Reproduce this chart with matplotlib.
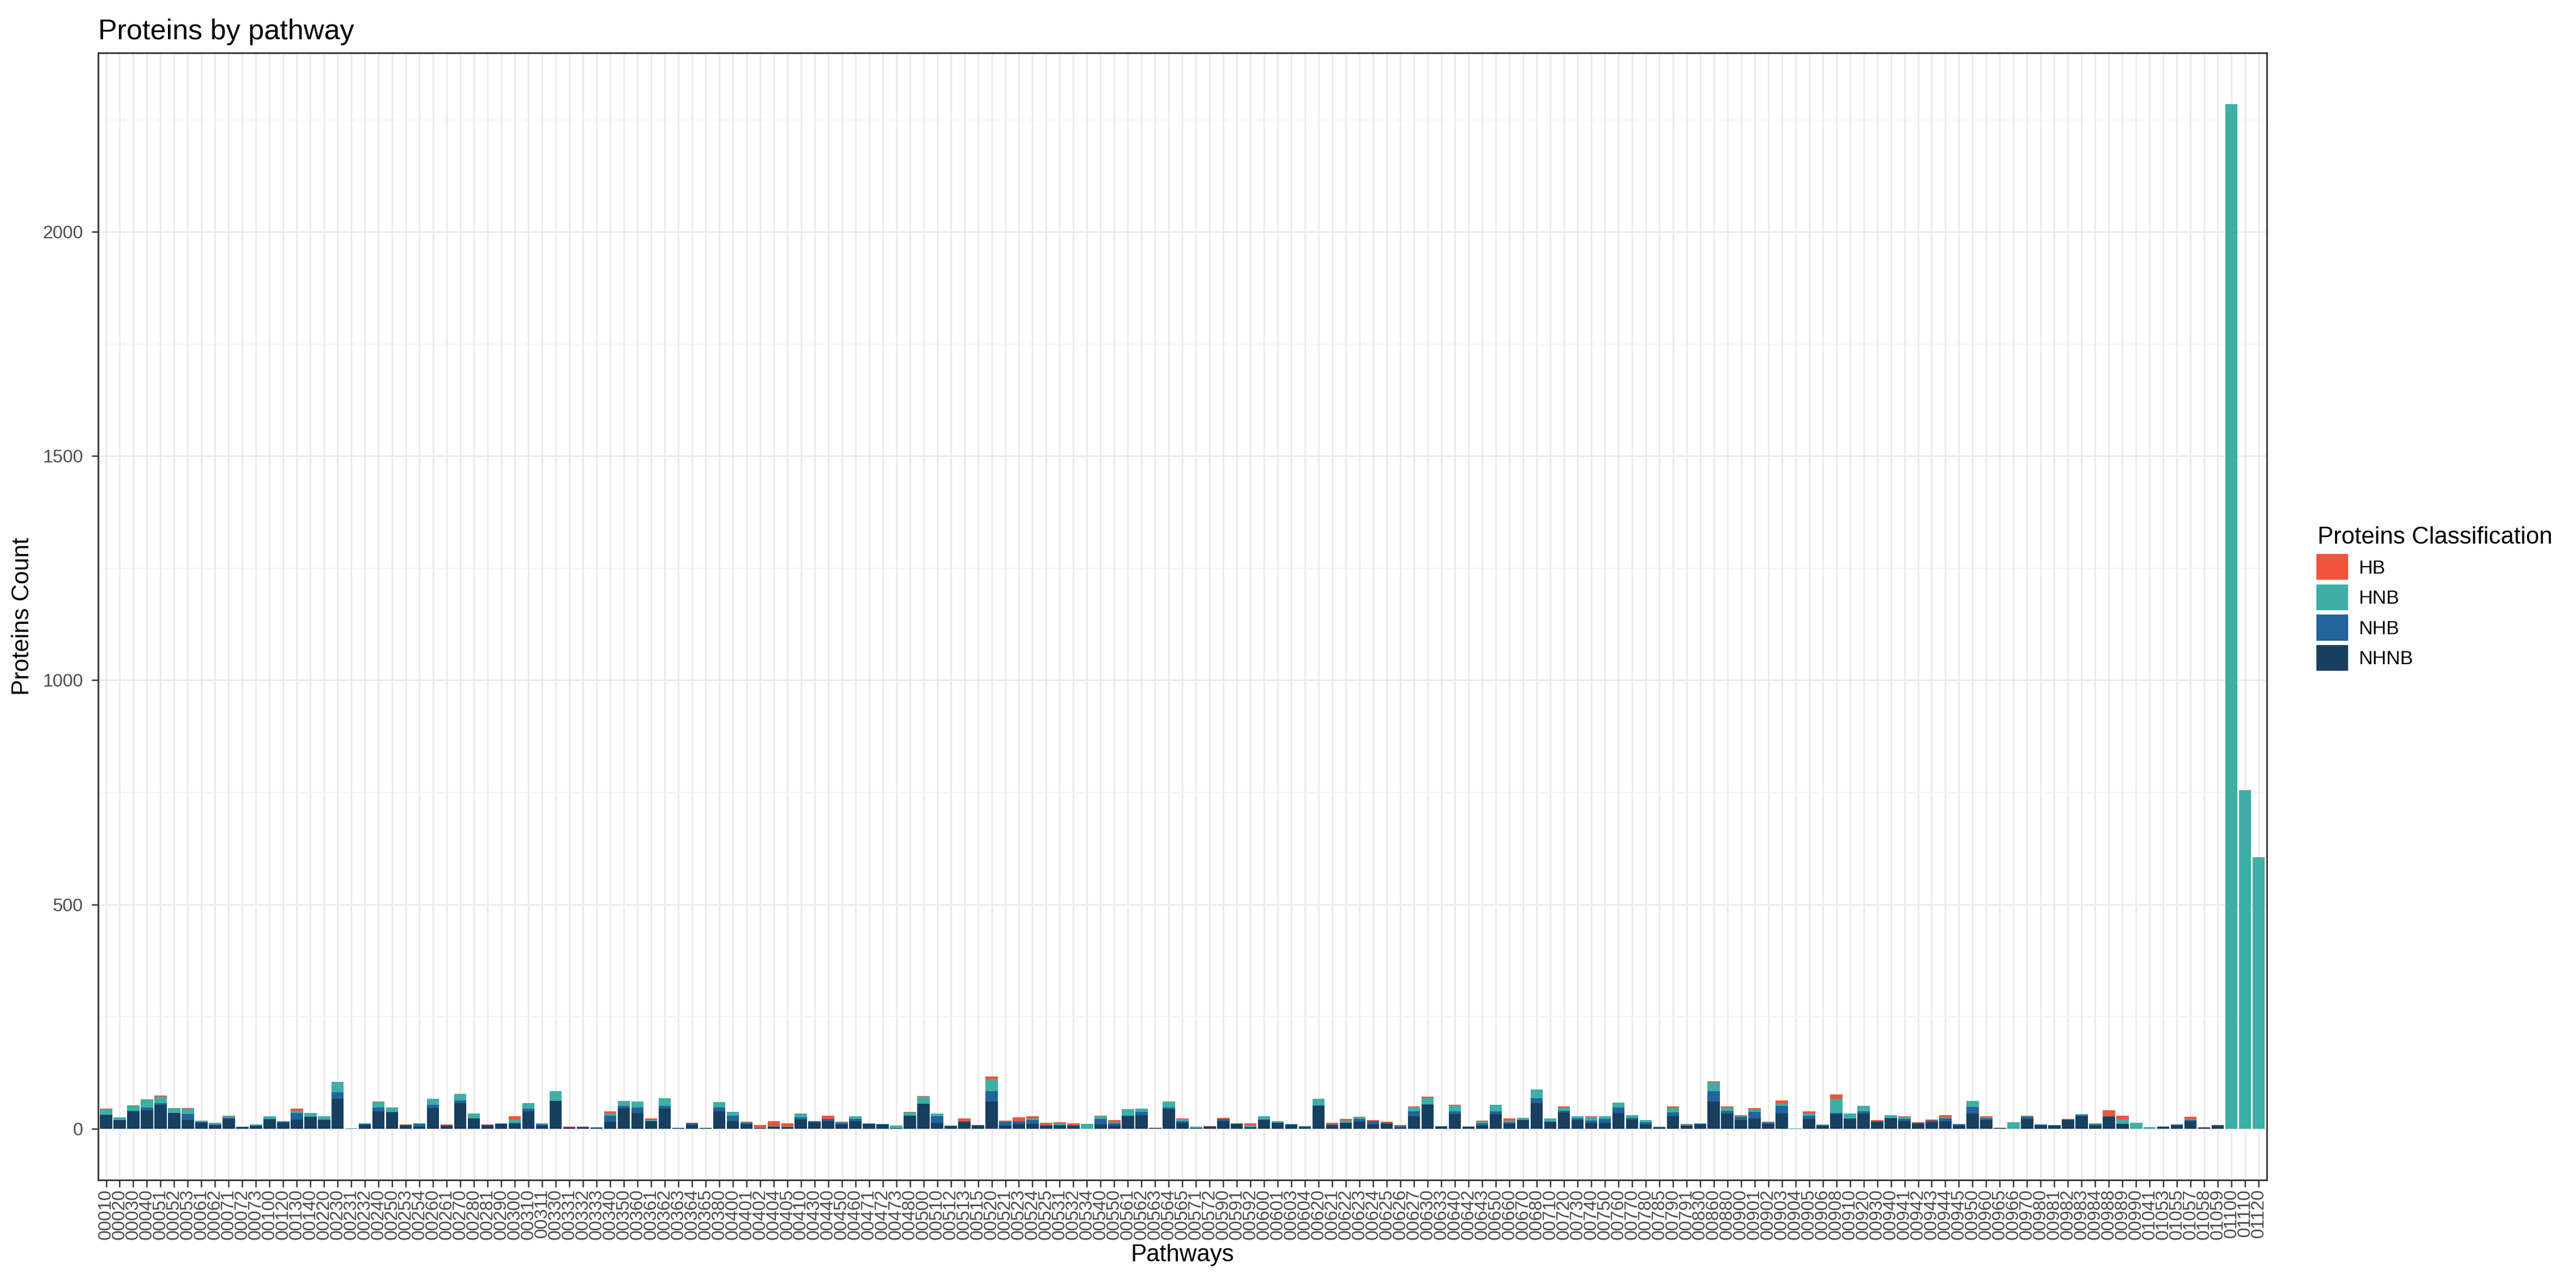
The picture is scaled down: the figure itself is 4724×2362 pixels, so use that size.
import matplotlib
matplotlib.use("Agg")
import matplotlib.pyplot as plt
import matplotlib.patches as mpatches
import numpy as np

pathways = [
"00010","00020","00030","00040","00051","00052","00053","00061","00062","00071","00072","00073","00100","00120","00130","00140",
"00220","00230","00231","00232","00240","00250","00253","00254","00260","00261","00270","00280","00281","00290","00300","00310",
"00311","00330","00331","00332","00333","00340","00350","00360","00361","00362","00363","00364","00365","00380","00400","00401",
"00402","00404","00405","00410","00430","00440","00450","00460","00471","00472","00473","00480","00500","00510","00512","00513",
"00515","00520","00521","00523","00524","00525","00531","00532","00534","00540","00550","00561","00562","00563","00564","00565",
"00571","00572","00590","00591","00592","00600","00601","00603","00604","00620","00621","00622","00623","00624","00625","00626",
"00627","00630","00633","00640","00642","00643","00650","00660","00670","00680","00710","00720","00730","00740","00750","00760",
"00770","00780","00785","00790","00791","00830","00860","00880","00900","00901","00902","00903","00904","00905","00906","00908",
"00910","00920","00930","00940","00941","00942","00943","00944","00945","00950","00960","00965","00966","00970","00980","00981",
"00982","00983","00984","00988","00989","00990","01041","01053","01055","01057","01058","01059","01100","01110","01120"]

NHNB = [30,19,39,41,53,35,19,14,7,22,3,6,20,13,20,26,
19,67,0,8,39,36,7,4,46,7,57,23,7,11,11,39,
7,61,2,3,1,15,46,35,16,45,1,8,1,38,17,9,
1,4,3,20,14,17,9,17,11,9,1,29,55,13,6,14,
7,60,7,11,11,7,7,7,0,9,7,27,30,1,43,13,
1,4,17,10,3,19,13,8,3,51,7,13,15,9,11,2,
28,53,4,33,4,7,32,10,19,57,15,36,19,13,13,35,
20,9,2,27,7,9,60,34,19,23,11,34,0,22,7,33,
22,34,14,23,17,11,14,17,7,34,19,1,0,21,7,7,
19,28,7,26,11,0,0,4,7,17,2,7,0,0,0]
NHB = [1,0,1,6,4,0,13,0,2,2,0,1,2,2,15,0,
1,14,0,2,8,1,1,6,7,0,6,0,1,0,2,6,
2,0,1,0,1,14,5,12,1,6,0,4,0,9,12,4,
0,0,0,5,2,5,4,5,0,0,0,0,1,15,0,2,
0,24,8,6,8,0,1,0,0,13,5,2,7,0,4,4,
0,1,4,0,0,1,0,1,1,1,2,0,6,8,2,4,
11,1,0,5,0,5,7,4,0,11,0,4,4,5,8,12,
4,5,1,9,0,1,24,6,7,14,2,17,0,7,0,2,
1,5,2,1,5,2,4,6,2,14,4,0,0,5,2,0,
1,2,2,1,0,0,0,0,2,2,0,0,0,0,0]
HNB = [12,6,11,17,14,11,13,4,4,4,2,2,5,1,5,9,
8,23,1,2,12,9,0,2,14,0,15,11,0,1,7,11,
2,22,0,0,1,5,11,13,2,17,1,0,1,12,8,1,
0,2,2,9,1,0,1,5,1,1,6,7,15,6,1,1,
0,26,1,0,4,1,4,0,10,5,2,14,7,0,13,5,
3,0,1,1,5,7,4,1,2,14,0,5,4,0,0,0,
9,15,2,14,1,4,14,4,5,19,8,7,4,8,7,11,
6,5,1,10,2,2,19,6,2,5,1,5,1,5,2,32,
11,12,1,6,4,0,0,2,2,13,1,0,14,2,0,1,
0,2,1,0,9,13,3,0,0,2,0,0,2285,755,605]
HB = [2,0,1,1,3,0,1,0,0,1,0,0,1,1,4,0,
0,0,0,0,1,1,1,0,0,2,0,0,1,0,7,1,
1,1,1,1,0,4,0,0,4,0,0,1,0,0,0,1,
7,10,7,0,0,7,1,1,0,1,0,1,1,0,0,6,
1,6,2,8,4,5,2,5,0,2,5,0,0,1,0,1,
0,1,2,1,4,0,0,1,0,0,4,4,1,2,2,2,
1,2,0,1,0,2,0,5,0,0,0,2,1,1,0,0,
0,0,0,3,1,0,2,4,2,4,1,7,0,4,0,9,
0,0,2,0,1,1,2,5,0,1,4,1,0,1,0,0,
1,1,2,14,9,0,0,1,0,5,1,1,0,0,0]

classes = ["HB", "HNB", "NHB", "NHNB"]
colors = {"HB": "#EE553B", "HNB": "#3DAFA5", "NHB": "#22649C", "NHNB": "#183F60"}

plt.rcParams['font.family'] = ['Liberation Sans', 'DejaVu Sans']
fig = plt.figure(figsize=(4724/300, 2362/300), dpi=300)
ax = fig.add_axes([0.038, 0.084, 0.842, 0.875])

x = np.arange(len(pathways))
series = {"NHNB": np.array(NHNB), "NHB": np.array(NHB), "HNB": np.array(HNB), "HB": np.array(HB)}
bottom = np.zeros(len(pathways))
for c in ["NHNB", "NHB", "HNB", "HB"]:
    ax.bar(x, series[c], bottom=bottom, width=0.9, color=colors[c], zorder=3, linewidth=0)
    bottom += series[c]

ymax = bottom.max()
ax.set_ylim(-0.05 * ymax, ymax * 1.05)
ax.set_xlim(-0.6, len(pathways) - 0.4)
ax.set_xticks(x)
ax.set_xticklabels(pathways, rotation=90, fontsize=8, color="#4D4D4D")
ax.set_yticks([0, 500, 1000, 1500, 2000])
ax.set_yticks([250, 750, 1250, 1750, 2250], minor=True)
ax.tick_params(axis='y', which='major', labelsize=8, labelcolor="#4D4D4D", color="#333333", length=3, width=0.6)
ax.tick_params(axis='y', which='minor', length=0)
ax.tick_params(axis='x', color="#333333", length=3, width=0.6, pad=1)
ax.grid(True, which='major', color="#EBEBEB", linewidth=0.7, zorder=0)
ax.grid(True, which='minor', axis='y', color="#F4F4F4", linewidth=0.4, zorder=0)
ax.set_axisbelow(True)
for s in ax.spines.values():
    s.set_color("#333333")
    s.set_linewidth(0.7)
ax.set_xlabel("Pathways", fontsize=10.5, labelpad=2)
ax.set_ylabel("Proteins Count", fontsize=10.5)
ax.set_title("Proteins by pathway", fontsize=12.5, loc='left', pad=6)

handles = [mpatches.Patch(color=colors[c], label=c) for c in classes]
leg = fig.legend(handles=handles, loc='upper left', bbox_to_anchor=(0.893, 0.605),
                 title="Proteins Classification", frameon=False, fontsize=8.5,
                 title_fontsize=10.5, handlelength=1.5, handleheight=1.5,
                 labelspacing=0.35, handletextpad=0.6)
leg._legend_box.align = "left"

fig.savefig("out.png", dpi=300)
